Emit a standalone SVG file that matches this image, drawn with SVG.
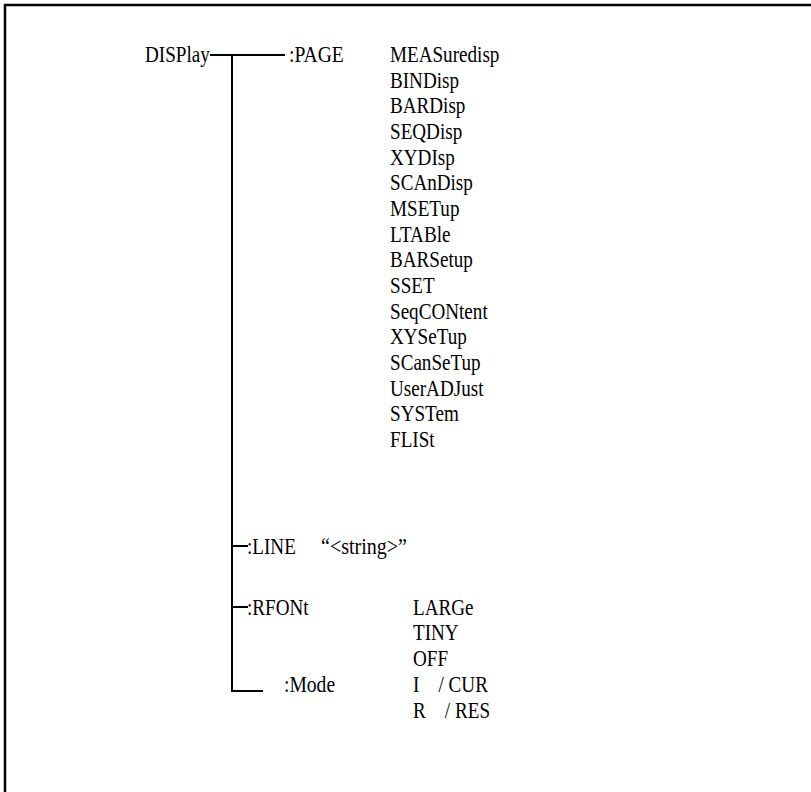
<svg xmlns="http://www.w3.org/2000/svg" width="811" height="792" viewBox="0 0 811 792">
<style>
text{font-family:"Liberation Serif","Times New Roman",serif;font-size:22.5px;fill:#000}
.c{stroke:#000;stroke-width:2;fill:none}
.f{stroke:#000;stroke-width:2.5;fill:none}
</style>
<rect width="811" height="792" fill="#fff"/>
<path class="f" d="M5,792 V5 H811"/>
<g id="connectors">
<path class="c" d="M210,55 H285"/>
<path class="c" d="M232,55 V691 H263"/>
<path class="c" d="M232,546 H248"/>
<path class="c" d="M232,607 H248"/>
</g>
<g id="root"><text transform="translate(145,62) scale(0.85,1)">DISPlay</text></g>
<g id="page">
<text transform="translate(289,62) scale(0.87,1)">:PAGE</text>
<text transform="translate(390,62) scale(0.85,1)">MEASuredisp</text>
<text transform="translate(390,88) scale(0.85,1)">BINDisp</text>
<text transform="translate(390,113) scale(0.85,1)">BARDisp</text>
<text transform="translate(390,139) scale(0.85,1)">SEQDisp</text>
<text transform="translate(390,165) scale(0.85,1)">XYDIsp</text>
<text transform="translate(390,190) scale(0.85,1)">SCAnDisp</text>
<text transform="translate(390,216) scale(0.85,1)">MSETup</text>
<text transform="translate(390,242) scale(0.85,1)">LTABle</text>
<text transform="translate(390,267) scale(0.85,1)">BARSetup</text>
<text transform="translate(390,293) scale(0.85,1)">SSET</text>
<text transform="translate(390,319) scale(0.85,1)">SeqCONtent</text>
<text transform="translate(390,344) scale(0.85,1)">XYSeTup</text>
<text transform="translate(390,370) scale(0.85,1)">SCanSeTup</text>
<text transform="translate(390,396) scale(0.85,1)">UserADJust</text>
<text transform="translate(390,421) scale(0.85,1)">SYSTem</text>
<text transform="translate(390,447) scale(0.85,1)">FLISt</text>
</g>
<g id="line">
<text transform="translate(247,554) scale(0.85,1)">:LINE</text>
<text transform="translate(321,554) scale(0.89,1)">“&lt;string&gt;”</text>
</g>
<g id="rfont">
<text transform="translate(247,615) scale(0.85,1)">:RFONt</text>
<text transform="translate(413,615) scale(0.85,1)">LARGe</text>
<text transform="translate(413,640) scale(0.85,1)">TINY</text>
<text transform="translate(413,666) scale(0.85,1)">OFF</text>
</g>
<g id="mode">
<text transform="translate(284,692) scale(0.87,1)">:Mode</text>
<text transform="translate(413,692) scale(0.85,1)" xml:space="preserve">I    / CUR</text>
<text transform="translate(413,718) scale(0.85,1)" xml:space="preserve">R    / RES</text>
</g>
</svg>
